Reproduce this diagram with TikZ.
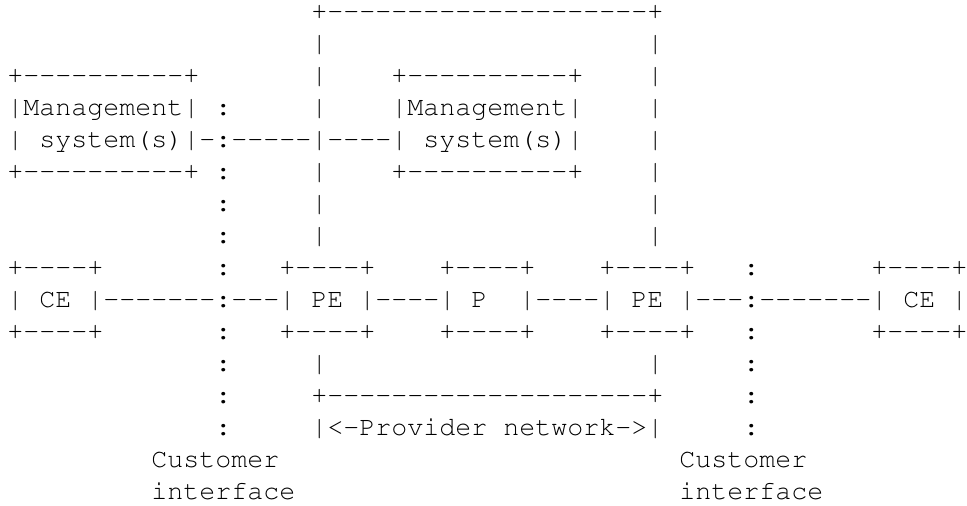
\documentclass[tikz,border=0pt]{standalone}
\usepackage[T1]{fontenc}
\usepackage{tikz}

% Courier, 8pt per column and 16pt per row
\newcommand\asciifont{\fontencoding{T1}\fontfamily{pcr}\fontseries{m}\fontshape{n}\fontsize{13.333pt}{16pt}\selectfont}
% a run of hyphens, kept apart so that -- gives no en dash
\newcommand\dashrun[1]{\foreach \i in {1,...,#1}{-}}

\begin{document}
\begin{tikzpicture}
[x=8pt, y=-16pt,
 every node/.style={font=\asciifont, inner sep=0pt, anchor=base west},
]
\useasboundingbox (-3.5pt,-6.5pt) rectangle (480pt,-259pt);

% frame from the management system down to the PEs
\node (top) at (19,1) {+\dashrun{20}+};
\foreach \r in {2,3,4,6,7,8,12}
{\node (fl\r) at (19,\r) {|};}
\foreach \r in {2,...,8,12}
{\node (fr\r) at (40,\r) {|};}

% management systems
\foreach \r in {3,6}
\foreach \c/\n in {0/mgmtL,24/mgmtR}
{\node (\n\r) at (\c,\r) {+\dashrun{10}+};}
\node (mgmtL4) at (0,4) {|Management|};
\node (mgmtR4) at (24,4) {|Management|};
\node (mgmt5) at (0,5) {| system(s)|-:\dashrun{5}|\dashrun{4}| system(s)|};

% customer interface markers
\foreach \r in {4,6,7,8,9,11,12,13,14}
{\node (cil\r) at (13,\r) {:};}
\foreach \r in {9,11,12,13,14}
{\node (cir\r) at (46,\r) {:};}

% CE - PE - P - PE - CE
\foreach \r in {9,11}
\foreach \c/\n in {0/ceL,17/peL,27/p,37/peR,54/ceR}
{\node (\n\r) at (\c,\r) {+\dashrun{4}+};}
\node (access) at (0,10) {| CE |\dashrun{7}:\dashrun{3}| PE |\dashrun{4}| P\ \ |\dashrun{4}| PE |\dashrun{3}:\dashrun{7}| CE |};

% provider network
\node (bottom) at (19,13) {+\dashrun{20}+};
\node (provider) at (19,14) {|<-Provider network->|};

\foreach \c/\n in {9/custL,42/custR}
{
\node (\n) at (\c,15) {Customer};
\node (\n-if) at (\c,16) {interface};
}
\end{tikzpicture}
\end{document}
